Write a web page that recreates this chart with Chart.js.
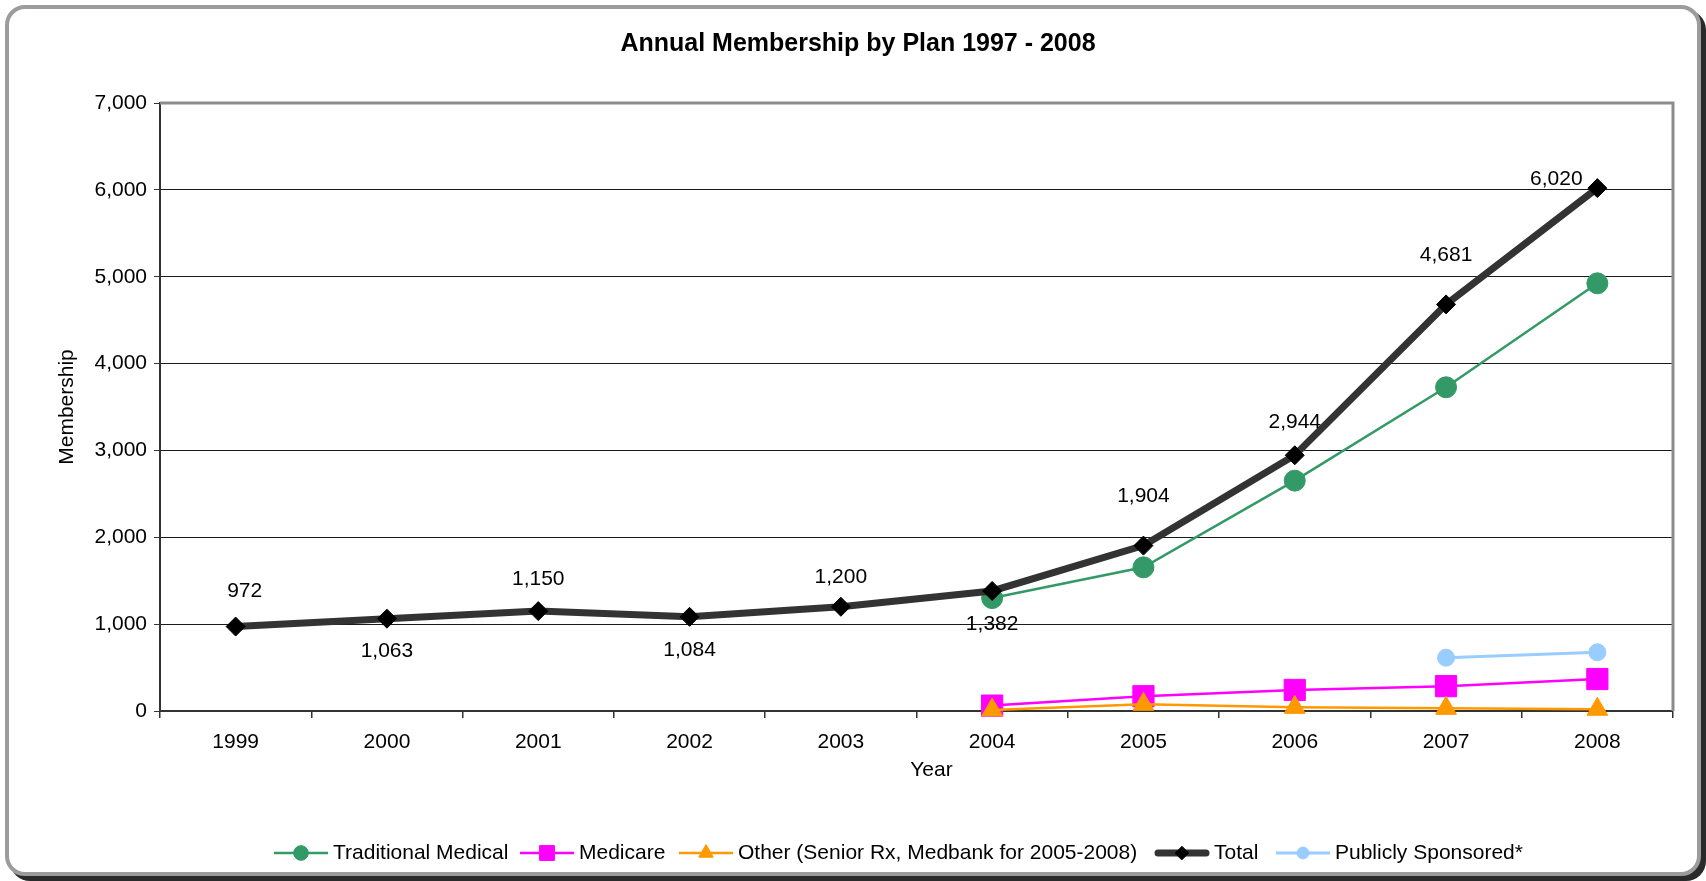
<!DOCTYPE html>
<html>
<head>
<meta charset="utf-8">
<title>Annual Membership by Plan</title>
<script src="https://cdn.jsdelivr.net/npm/chart.js@4.4.1/dist/chart.umd.min.js"></script>
<style>
  html, body { margin: 0; padding: 0; background: #fff; overflow: hidden; }
  .frame {
    position: absolute; left: 5px; top: 5px;
    width: 1696px; height: 871px; box-sizing: border-box;
    border: 4px solid #9c9c9c; border-radius: 20px;
    box-shadow: 5px 5px 0 #2a2a2a; background: #fff;
  }
  .wrap { position: absolute; left: 0; top: 0; width: 1706px; height: 881px; }
</style>
</head>
<body>
<div class="frame"></div>
<div class="wrap"><canvas id="membership"></canvas></div>
<script>
const years = ['1999', '2000', '2001', '2002', '2003', '2004', '2005', '2006', '2007', '2008'];
const traditionalMedical = [null, null, null, null, null, 1300, 1654, 2652, 3727, 4924];
const medicare = [null, null, null, null, null, 62, 170, 242, 286, 368];
const otherPlans = [null, null, null, null, null, 12, 77, 42, 31, 20];
const total = [972, 1063, 1150, 1084, 1200, 1382, 1904, 2944, 4681, 6020];
const publiclySponsored = [null, null, null, null, null, null, null, null, 614, 676];
const yTicks = [0, 1000, 2000, 3000, 4000, 5000, 6000, 7000];

// where each Total value label sits relative to its point [dx, dy]
const totalLabelOffsets = [[9, -35], [0, 33], [0, -32], [0, 33], [0, -30], [0, 33], [0, -49], [0, -33], [0, -49], [-41, -9]];
// left edge of each legend entry's line sample
const legendX = [274, 520, 679, 1155, 1276];

const FONT = "'Liberation Sans', Arial, sans-serif";
const TEXT_SIZE = 21;
const fmt = v => v.toLocaleString('en-US');

const series = [
  { label: 'Traditional Medical', data: traditionalMedical, color: '#339966', width: 2.5, style: 'circle', radius: 10.5, order: 4 },
  { label: 'Medicare', data: medicare, color: '#FF00FF', width: 2.5, style: 'rect', radius: 15, order: 3 },
  { label: 'Other (Senior Rx, Medbank for 2005-2008)', data: otherPlans, color: '#FF9900', width: 2.5, style: 'triangle', radius: 12, order: 2 },
  { label: 'Total', data: total, color: '#333333', point: '#000000', width: 7, style: 'rectRot', radius: 9.5, order: 1 },
  { label: 'Publicly Sponsored*', data: publiclySponsored, color: '#99CCFF', width: 3, style: 'circle', radius: 8.5, order: 0 },
];

const datasets = series.map(s => ({
  label: s.label,
  data: s.data,
  order: s.order,
  borderColor: s.color,
  borderWidth: s.width,
  backgroundColor: s.point || s.color,
  pointBackgroundColor: s.point || s.color,
  pointBorderColor: s.point || s.color,
  pointBorderWidth: 1,
  pointStyle: s.style,
  pointRadius: s.radius,
  pointHoverRadius: s.radius,
  tension: 0,
  spanGaps: false,
  clip: false,
}));

// grey frame on top and right of the plot area
const plotFrame = {
  id: 'plotFrame',
  beforeDatasetsDraw(chart) {
    const { ctx, chartArea: a } = chart;
    ctx.save();
    ctx.strokeStyle = '#8c8c8c';
    ctx.lineWidth = 3;
    ctx.beginPath();
    ctx.moveTo(a.left, a.top);
    ctx.lineTo(a.right, a.top);
    ctx.lineTo(a.right, a.bottom);
    ctx.stroke();
    ctx.restore();
  }
};

// chart title and the "Year" caption
const captions = {
  id: 'captions',
  afterDraw(chart) {
    const { ctx, chartArea: a } = chart;
    ctx.save();
    ctx.fillStyle = '#000';
    ctx.textAlign = 'center';
    ctx.textBaseline = 'middle';
    ctx.font = 'bold 25px ' + FONT;
    ctx.fillText('Annual Membership by Plan 1997 - 2008', 858, 44);
    ctx.font = TEXT_SIZE + 'px ' + FONT;
    ctx.fillText('Year', (a.left + a.right) / 2 + 15, a.bottom + 59);
    ctx.restore();
  }
};

const totalLabels = {
  id: 'totalLabels',
  afterDatasetsDraw(chart) {
    const idx = chart.data.datasets.findIndex(d => d.label === 'Total');
    const meta = chart.getDatasetMeta(idx);
    const { ctx } = chart;
    ctx.save();
    ctx.font = TEXT_SIZE + 'px ' + FONT;
    ctx.fillStyle = '#000';
    ctx.textAlign = 'center';
    ctx.textBaseline = 'middle';
    meta.data.forEach((pt, i) => {
      const [dx, dy] = totalLabelOffsets[i];
      ctx.fillText(fmt(total[i]), pt.x + dx, pt.y + dy);
    });
    ctx.restore();
  }
};

// legend with a line sample and marker for each series
const lineLegend = {
  id: 'lineLegend',
  afterDraw(chart) {
    const { ctx } = chart;
    const y = 853;
    const sample = 54;
    ctx.save();
    ctx.font = TEXT_SIZE + 'px ' + FONT;
    ctx.textBaseline = 'middle';
    ctx.textAlign = 'left';
    series.forEach((s, i) => {
      const x = legendX[i];
      const isTotal = s.label === 'Total';
      ctx.strokeStyle = s.color;
      ctx.lineWidth = s.width;
      ctx.lineCap = isTotal ? 'round' : 'butt';
      ctx.beginPath();
      ctx.moveTo(x + (isTotal ? 3 : 0), y);
      ctx.lineTo(x + sample - (isTotal ? 3 : 0), y);
      ctx.stroke();
      ctx.fillStyle = s.point || s.color;
      ctx.strokeStyle = s.point || s.color;
      ctx.lineWidth = 1;
      Chart.helpers.drawPoint(ctx, { pointStyle: s.style, radius: s.radius * 0.7, borderWidth: 1, rotation: 0 }, x + sample / 2, y);
      ctx.fillStyle = '#000';
      ctx.fillText(s.label, x + sample + 5, y);
    });
    ctx.restore();
  }
};

new Chart(document.getElementById('membership'), {
  type: 'line',
  data: { labels: years, datasets },
  options: {
    responsive: true,
    maintainAspectRatio: false,
    animation: false,
    events: [],
    layout: { padding: { left: 0, right: 33, top: 103, bottom: 90 } },
    plugins: {
      legend: { display: false },
      tooltip: { enabled: false },
      title: { display: false }
    },
    scales: {
      x: {
        offset: true,
        afterFit: s => { s.height = 80; },
        grid: { offset: true, drawOnChartArea: false, drawTicks: true, tickLength: 7, color: '#333', lineWidth: 1.5 },
        border: { color: '#333', width: 2 },
        ticks: { color: '#000', padding: 12, font: { family: FONT, size: TEXT_SIZE } }
      },
      y: {
        min: 0,
        max: 7000,
        afterFit: s => { s.width = 160; },
        afterBuildTicks: s => { s.ticks = yTicks.map(v => ({ value: v })); },
        grid: {
          color: c => (c.tick && c.tick.value === 7000) ? 'rgba(0,0,0,0)' : '#1a1a1a',
          tickColor: '#333',
          lineWidth: 1,
          tickLength: 6
        },
        border: { color: '#333', width: 2 },
        ticks: { color: '#000', padding: 7, font: { family: FONT, size: TEXT_SIZE }, callback: v => fmt(v) },
        title: { display: true, text: 'Membership', color: '#000', font: { family: FONT, size: TEXT_SIZE }, padding: { top: 55, bottom: 0 } }
      }
    }
  },
  plugins: [plotFrame, totalLabels, captions, lineLegend]
});
</script>
</body>
</html>
